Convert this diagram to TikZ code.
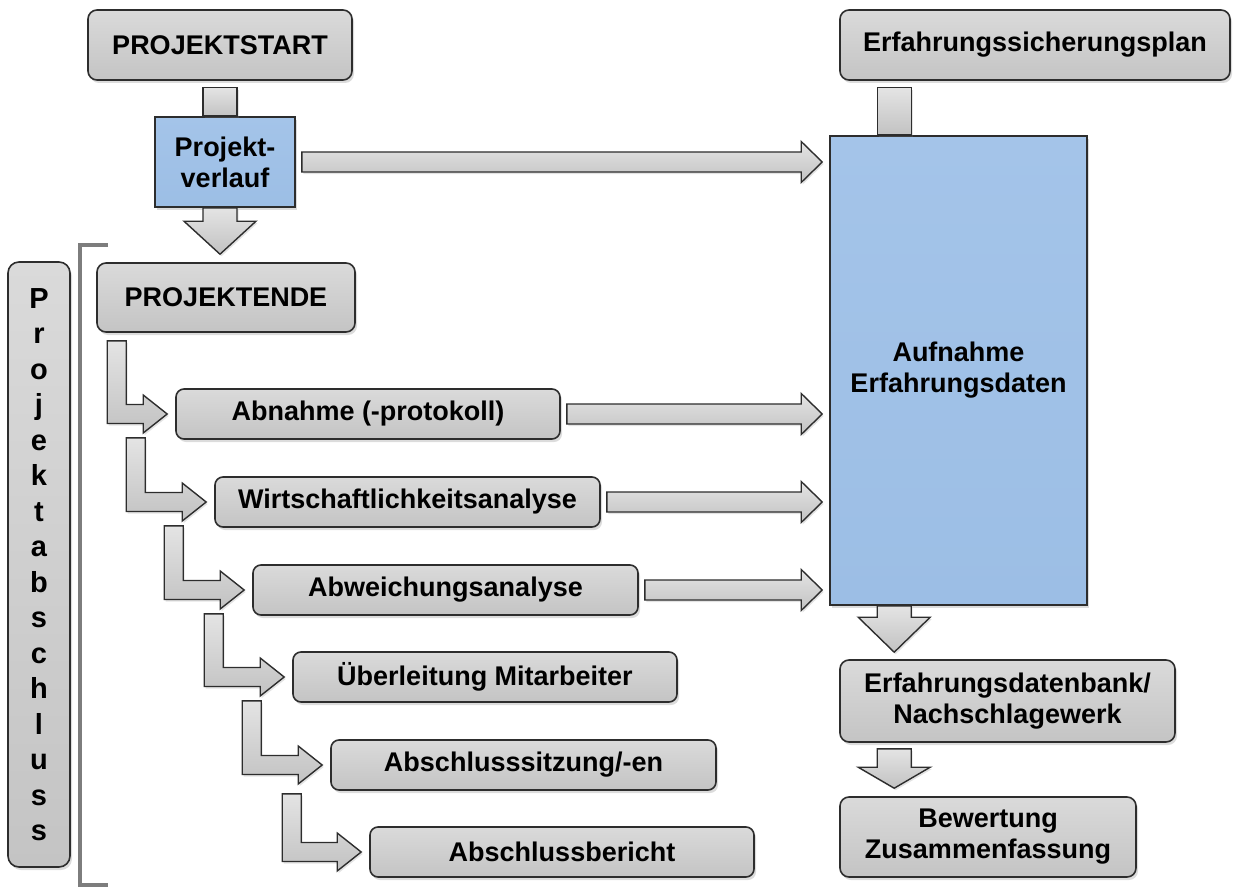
\documentclass[tikz,border=0pt]{standalone}
\usepackage{fontspec}
\setmainfont{Liberation Sans}
\usetikzlibrary{calc,shadows}
\definecolor{boxtop}{RGB}{218,218,218}
\definecolor{boxbot}{RGB}{196,196,196}
\definecolor{bluefill}{RGB}{156,190,229}
\definecolor{bluetop}{RGB}{164,196,233}
\definecolor{edgecol}{RGB}{45,45,45}
\definecolor{arrtop}{RGB}{228,228,228}
\definecolor{arrbot}{RGB}{194,194,194}
\definecolor{brkcol}{RGB}{125,125,125}
\tikzset{
  myshadow/.style={drop shadow={shadow xshift=2pt,shadow yshift=-3pt,opacity=0.28}},
  graybox/.style={draw=edgecol,line width=1.6pt,rounded corners=9pt,top color=boxtop,bottom color=boxbot,myshadow,
    font=\fontsize{27}{31}\selectfont\bfseries,align=center,inner sep=0pt},
  bluebox/.style={draw=edgecol,line width=1.6pt,top color=bluetop,bottom color=bluefill,myshadow,
    font=\fontsize{27}{31}\selectfont\bfseries,align=center,inner sep=0pt},
  barrow/.style={draw=edgecol,line width=1.4pt,line join=miter,top color=arrtop,bottom color=arrbot,
    drop shadow={shadow xshift=1.5pt,shadow yshift=-2pt,opacity=0.22}},
  bracket/.style={draw=brkcol,line width=4pt},
}
% right block arrow: from node #1 to node #2
\newcommand\rarrow[2]{%
  \coordinate (rs) at ($(#1.east)+(6,0)$);
  \coordinate (rt) at ($(#2.west |- #1.east)+(-7,0)$);
  \draw[barrow] ($(rs)+(0,-10)$) -- ($(rt)+(-21,-10)$) -- ($(rt)+(-21,-20.5)$) -- (rt)
     -- ($(rt)+(-21,20.5)$) -- ($(rt)+(-21,10)$) -- ($(rs)+(0,10)$) -- cycle;}
% down block arrow: #1 from, #2 to, #3 x reference, #4 start gap, #5 end gap, #6 head length
\newcommand\darrow[6]{%
  \coordinate (ds) at ($(#3 |- #1.south)+(0,#4)$);
  \coordinate (dt) at ($(#3 |- #2.north)+(0,-#5)$);
  \draw[barrow] ($(ds)+(-17,0)$) -- ($(dt)+(-17,-#6)$) -- ($(dt)+(-36,-#6)$) -- (dt)
     -- ($(dt)+(36,-#6)$) -- ($(dt)+(17,-#6)$) -- ($(ds)+(17,0)$) -- cycle;}
% shaft only: #1 from, #2 to, #3 x reference, #4 start gap
\newcommand\dshaft[4]{%
  \draw[barrow] ($(#3 |- #1.south)+(-17,#4)$) rectangle ($(#3 |- #2.north)+(17,0)$);}
% L-shaped arrow: #1 from, #2 to, #3 x offset of shaft from #2.west, #4 top offset below #1.south
\newcommand\larrow[4]{%
  \coordinate (lt) at ($(#2.west)+(-8,0)$);
  \coordinate (lc) at ($(#2.west)+(#3,0)$);
  \coordinate (lo) at ($(lc |- #1.south)+(0,#4)$);
  \draw[barrow] (lo) -- ($(lo)+(19,0)$) -- ($(lc)+(19,-9.5)$) -- ($(lt)+(-24,-9.5)$) -- ($(lt)+(-24,-19)$)
     -- (lt) -- ($(lt)+(-24,19)$) -- ($(lt)+(-24,9.5)$) -- ($(lc)+(0,9.5)$) -- cycle;}
\begin{document}
\begin{tikzpicture}[x=1pt,y=-1pt]
\useasboundingbox (0,0) rectangle (1234,888);
% left column
\node[graybox,minimum width=264pt,minimum height=70pt] (start) at (220,45) {PROJEKTSTART};
\node[bluebox,minimum width=140pt,minimum height=90pt] (verlauf) at (225,162) {Projekt-\\verlauf};
\node[graybox,minimum width=258pt,minimum height=69pt] (ende) at (226,297.5) {PROJEKTENDE};
\node[graybox,rounded corners=11pt,minimum width=62pt,minimum height=605pt,
      font=\fontsize{29}{35.5}\selectfont\bfseries] (pa) at (39,564.5)
      {P\\r\\o\\j\\e\\k\\t\\a\\b\\s\\c\\h\\l\\u\\s\\s};
\draw[bracket] (108,245) -- (80,245) -- (80,885) -- (108,885);
\node[graybox,rounded corners=8pt,minimum width=384pt,minimum height=50pt] (b1) at (368,414) {Abnahme (-protokoll)};
\node[graybox,rounded corners=8pt,minimum width=385pt,minimum height=50pt] (b2) at (407.5,502) {Wirtschaftlichkeitsanalyse};
\node[graybox,rounded corners=8pt,minimum width=385pt,minimum height=50pt] (b3) at (445.5,590) {Abweichungsanalyse};
\node[graybox,rounded corners=8pt,minimum width=384pt,minimum height=50pt] (b4) at (485,677) {Überleitung Mitarbeiter};
\node[graybox,rounded corners=8pt,minimum width=385pt,minimum height=50pt] (b5) at (523.5,765) {Abschlusssitzung/-en};
\node[graybox,rounded corners=8pt,minimum width=384pt,minimum height=50pt] (b6) at (562,852) {Abschlussbericht};
% right column
\node[graybox,minimum width=390pt,minimum height=70pt] (plan) at (1035,45) {Erfahrungssicherungsplan};
\node[bluebox,minimum width=257pt,minimum height=469pt] (big) at (958.5,370.5) {Aufnahme\\Erfahrungsdaten};
\node[graybox,minimum width=335pt,minimum height=82pt] (db) at (1007.5,701) {Erfahrungsdatenbank/\\Nachschlagewerk};
\node[graybox,minimum width=296pt,minimum height=80pt] (bew) at (988,837) {Bewertung\\Zusammenfassung};
\coordinate (rx) at ($(big.west)+(65,0)$);
% connectors
\dshaft{start}{verlauf}{start}{7}
\darrow{verlauf}{ende}{start}{0}{8}{33}
\dshaft{plan}{big}{rx}{7}
\darrow{big}{db}{rx}{0}{7}{35}
\darrow{db}{bew}{rx}{6}{8}{21}
\rarrow{verlauf}{big}
\rarrow{b1}{big}
\rarrow{b2}{big}
\rarrow{b3}{big}
\larrow{ende}{b1}{-68}{8}
\larrow{b1}{b2}{-88}{-2}
\larrow{b2}{b3}{-88}{-2}
\larrow{b3}{b4}{-88}{-2}
\larrow{b4}{b5}{-88}{-2}
\larrow{b5}{b6}{-87}{3}
\end{tikzpicture}
\end{document}
